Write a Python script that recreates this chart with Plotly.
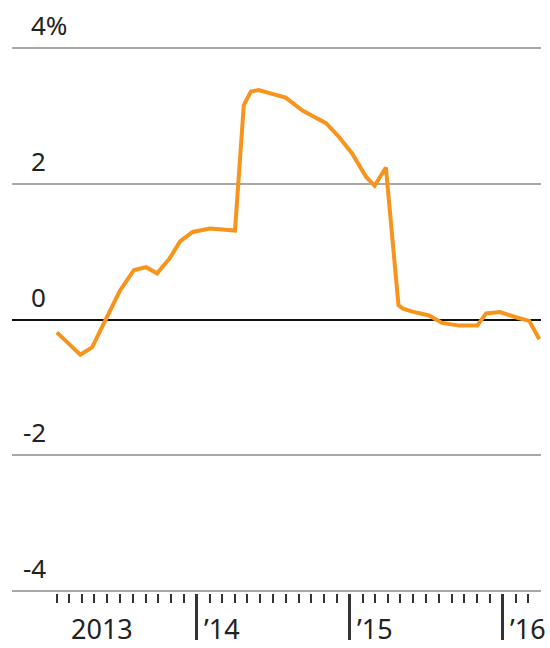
import plotly.graph_objects as go

# Monthly-ish readings of the series (percent change)
dates = [
    "2013-02-01", "2013-03-10", "2013-03-29", "2013-04-26", "2013-05-28",
    "2013-07-01", "2013-08-04", "2013-09-02", "2013-09-28", "2013-10-28",
    "2013-11-22", "2013-12-22", "2014-02-01", "2014-03-25", "2014-04-02",
    "2014-04-23", "2014-05-10", "2014-05-28", "2014-08-01", "2014-09-10",
    "2014-11-06", "2014-12-06", "2015-01-06", "2015-02-09", "2015-03-01",
    "2015-03-28", "2015-04-27", "2015-05-08", "2015-05-28", "2015-07-09",
    "2015-08-09", "2015-09-19", "2015-11-01", "2015-11-22", "2015-12-25",
    "2016-02-03", "2016-03-04", "2016-03-28",
]
values = [
    -0.19, -0.41, -0.52, -0.41, 0.00,
    0.42, 0.73, 0.77, 0.68, 0.90,
    1.15, 1.29, 1.34, 1.31, 1.31,
    3.16, 3.36, 3.38, 3.27, 3.08,
    2.89, 2.69, 2.45, 2.10, 1.97,
    2.24, 0.21, 0.16, 0.12, 0.06,
    -0.05, -0.09, -0.09, 0.09, 0.11,
    0.03, -0.02, -0.29,
]

# Axis labels
y_tick_vals = [-4, -2, 0, 2, 4]
y_tick_text = ["-4", "-2", "0", "2", "4%"]
year_ticks = ["2014-01-01", "2015-01-01", "2016-01-01"]
month_ticks = [f"{y}-{m:02d}-01" for y in (2013, 2014, 2015, 2016)
               for m in range(1, 13)
               if "2013-02-01" <= f"{y}-{m:02d}-01" <= "2016-03-01"
               and m != 1]
x_label_pos = ["2013-03-02", "2014-01-01", "2015-01-01", "2016-01-01"]
x_label_text = ["2013", "\u201914", "\u201915", "\u201916"]

FONT = "Noto Sans"
TEXT = "#222222"
W, H = 550, 648
ML, MR, MT, MB = 12, 9, 46, 52
plot_w = W - ML - MR
PAD = 0.03  # keeps the outer gridlines inside the plotting area

fig = go.Figure()
fig.add_trace(go.Scatter(
    x=dates, y=values, mode="lines",
    line=dict(color="#F7941D", width=4, shape="linear"),
    hoverinfo="skip",
))

annotations = []
for v, t in zip(y_tick_vals, y_tick_text):
    if t.endswith("%"):
        ax, anchor = (29 - ML) / plot_w, "left"
    else:
        ax, anchor = (48 - ML) / plot_w, "right"
    annotations.append(dict(
        x=ax, xref="paper", y=v, yref="y", text=t, showarrow=False,
        xanchor=anchor, yanchor="bottom", yshift=3,
        font=dict(family=FONT, size=26, color=TEXT),
    ))
for i, (p, t) in enumerate(zip(x_label_pos, x_label_text)):
    annotations.append(dict(
        x=p, xref="x", y=0, yref="paper", text=t, showarrow=False,
        xanchor="left", yanchor="top", yshift=-15, xshift=0 if i == 0 else 5,
        font=dict(family=FONT, size=27, color=TEXT),
    ))

fig.update_layout(
    width=W, height=H,
    margin=dict(l=ML, r=MR, t=MT, b=MB),
    paper_bgcolor="white", plot_bgcolor="white",
    showlegend=False,
    annotations=annotations,
    xaxis=dict(
        type="date", range=["2012-10-17", "2016-04-01"],
        showgrid=False, zeroline=False, showline=False,
        tickmode="array", tickvals=year_ticks, showticklabels=False,
        ticks="outside", ticklen=46, tickwidth=2.5, tickcolor="#333333",
        minor=dict(tickmode="array", tickvals=month_ticks, ticks="outside",
                   ticklen=9, tickwidth=2, tickcolor="#333333",
                   showgrid=False),
    ),
    yaxis=dict(
        range=[-4 - PAD, 4 + PAD], tickmode="array", tickvals=y_tick_vals,
        showticklabels=False, showgrid=True, gridcolor="#a8a8a8",
        gridwidth=1.5, zeroline=True, zerolinecolor="#111111",
        zerolinewidth=2, showline=False, ticks="",
    ),
)

fig.write_html("out.html")
